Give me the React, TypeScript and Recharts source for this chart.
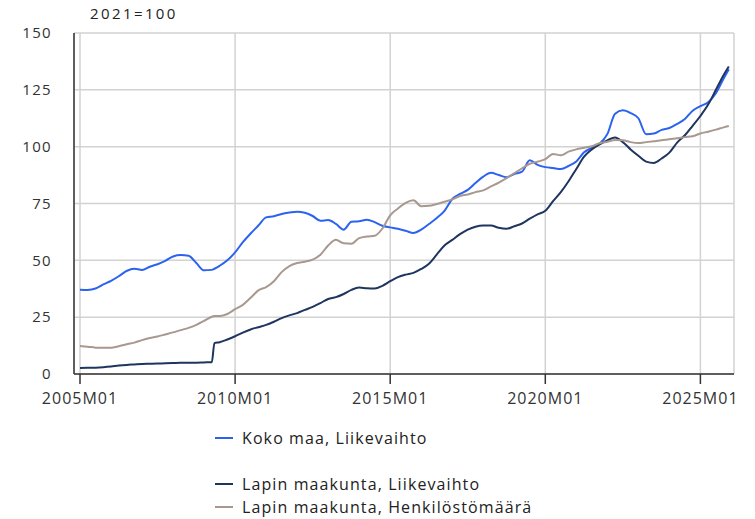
import { LineChart, Line, XAxis, YAxis, CartesianGrid } from 'recharts';

// month index, 0 = 2005M01
const months = [
  0, 3, 6, 9, 12, 15, 18, 21, 24, 27, 30, 33, 36, 39, 42, 45, 48, 51, 52, 54,
  57, 60, 63, 66, 69, 72, 75, 78, 81, 84, 87, 90, 93, 96, 99, 102, 105, 108, 111, 114,
  117, 120, 123, 126, 129, 132, 135, 138, 141, 144, 147, 150, 153, 156, 159, 162, 165, 168, 171, 174,
  177, 180, 183, 186, 189, 192, 195, 198, 201, 204, 207, 210, 213, 216, 219, 222, 225, 228, 231, 234,
  237, 240, 243, 246, 249, 251,
];

const kokoMaaLiikevaihto = [
  37.1, 37.0, 37.6, 39.4, 41.0, 43.0, 45.3, 46.3, 45.8, 47.2, 48.3, 49.8, 51.7, 52.3, 52.0, 48.8, 45.6, 45.8, 46.3, 47.6,
  50.0, 53.5, 58.0, 61.8, 65.3, 68.9, 69.4, 70.4, 71.0, 71.4, 70.9, 69.5, 67.4, 67.7, 66.0, 63.5, 67.0, 67.2, 67.9, 66.8,
  65.2, 64.5, 63.9, 63.0, 62.0, 63.5, 66.0, 68.6, 71.8, 77.0, 79.2, 81.0, 84.0, 86.8, 88.5, 87.5, 86.6, 88.0, 89.0, 94.0,
  92.0, 91.0, 90.6, 90.2, 91.5, 93.5, 97.5, 99.5, 101.3, 105.5, 114.5, 116.0, 114.8, 112.5, 105.5, 105.8, 107.4, 108.2, 110.0, 112.2,
  115.8, 117.8, 119.5, 123.5, 130.0, 134.0,
];

const lappiLiikevaihto = [
  2.6, 2.7, 2.8, 3.0, 3.3, 3.7, 4.0, 4.2, 4.4, 4.5, 4.6, 4.7, 4.8, 4.9, 5.0, 5.0, 5.1, 5.2, 13.6, 14.0,
  15.2, 16.6, 18.2, 19.6, 20.6, 21.6, 23.0, 24.6, 25.8, 26.8, 28.2, 29.5, 31.2, 33.0, 33.8, 35.2, 37.0, 38.0, 37.7, 37.6,
  38.8, 40.8, 42.6, 43.7, 44.5, 46.2, 48.5, 52.5, 56.5, 59.0, 61.5, 63.5, 64.8, 65.3, 65.3, 64.3, 63.9, 65.0, 66.2, 68.3,
  70.2, 71.8, 76.0, 80.0, 84.8, 90.2, 95.6, 98.8, 101.0, 102.8, 104.0, 102.0, 98.8, 96.0, 93.4, 92.8, 94.8, 97.4, 101.8, 105.0,
  109.2, 113.5, 118.5, 125.0, 131.5, 135.3,
];

const lappiHenkilosto = [
  12.3, 12.0, 11.6, 11.5, 11.5, 12.2, 13.1, 13.8, 14.9, 15.8, 16.5, 17.4, 18.3, 19.3, 20.3, 21.6, 23.4, 25.2, 25.5, 25.5,
  26.4, 28.5, 30.4, 33.5, 36.8, 38.2, 40.8, 44.8, 47.5, 48.8, 49.4, 50.3, 52.5, 56.5, 59.0, 57.5, 57.3, 59.8, 60.5, 60.8,
  64.0, 69.8, 72.8, 75.3, 76.4, 73.8, 74.0, 74.8, 75.8, 76.8, 78.3, 79.0, 80.0, 80.8, 82.5, 84.2, 86.2, 88.3, 90.5, 92.5,
  93.4, 94.5, 96.8, 96.2, 97.8, 98.8, 99.5, 100.2, 101.5, 102.2, 102.9, 102.8, 102.0, 101.6, 102.0, 102.4, 102.8, 103.3, 103.7, 104.2,
  104.6, 105.8, 106.6, 107.5, 108.5, 109.1,
];

const xTicks = [0, 60, 120, 180, 240];
const yTicks = [0, 25, 50, 75, 100, 125, 150];

const series = [
  { key: 'koko', name: 'Koko maa, Liikevaihto', color: '#2b63f0' },
  { key: 'lappiLv', name: 'Lapin maakunta, Liikevaihto', color: '#1e3560' },
  { key: 'lappiHk', name: 'Lapin maakunta, Henkilöstömäärä', color: '#a8988f' },
];

const data = months.map((m, i) => ({
  m,
  koko: kokoMaaLiikevaihto[i],
  lappiLv: lappiLiikevaihto[i],
  lappiHk: lappiHenkilosto[i],
}));

const monthLabel = (m: number) =>
  `${2005 + Math.floor(m / 12)}M${String((m % 12) + 1).padStart(2, '0')}`;

const font = '"Open Sans", "Noto Sans", sans-serif';

export default function App() {
  return (
    <div style={{ position: 'absolute', left: 0, top: 0, width: 755, height: 519, background: '#fff', fontFamily: font }}>
      <div style={{ position: 'absolute', left: 90, top: 3, fontSize: 15, color: '#222', letterSpacing: 2.4 }}>2021=100</div>
      <LineChart
        width={755}
        height={420}
        data={data}
        margin={{ top: 33, right: 21, left: 0, bottom: 16 }}
      >
        <CartesianGrid stroke="#d2d2d2" strokeWidth={1.5} />
        <XAxis
          dataKey="m"
          type="number"
          domain={[0, 253]}
          ticks={xTicks}
          tickFormatter={monthLabel}
          padding={{ left: 6, right: 0 }}
          height={30}
          stroke="#333"
          strokeWidth={1.5}
          tickSize={10}
          tickMargin={9}
          tick={{ fill: '#333', fontSize: 16, fontFamily: font, letterSpacing: 1 }}
        />
        <YAxis
          domain={[0, 150]}
          ticks={yTicks}
          width={74}
          stroke="#333"
          strokeWidth={1.5}
          tickSize={0}
          tickMargin={22}
          tick={{ fill: '#333', fontSize: 15, fontFamily: font, letterSpacing: 1.3 }}
        />
        {series.map((s) => (
          <Line
            key={s.key}
            type="monotone"
            dataKey={s.key}
            name={s.name}
            stroke={s.color}
            strokeWidth={2}
            dot={false}
            isAnimationActive={false}
          />
        ))}
      </LineChart>
      {series.map((s, i) => (
        <div
          key={s.key}
          style={{
            position: 'absolute',
            left: 215,
            top: i === 0 ? 427 : 450 + i * 23,
            height: 22,
            display: 'flex',
            alignItems: 'center',
            fontSize: 16,
            color: '#222',
            letterSpacing: 1.1,
          }}
        >
          <span style={{ display: 'inline-block', width: 18, height: 2, background: s.color, marginRight: 9 }} />
          {s.name}
        </div>
      ))}
    </div>
  );
}
